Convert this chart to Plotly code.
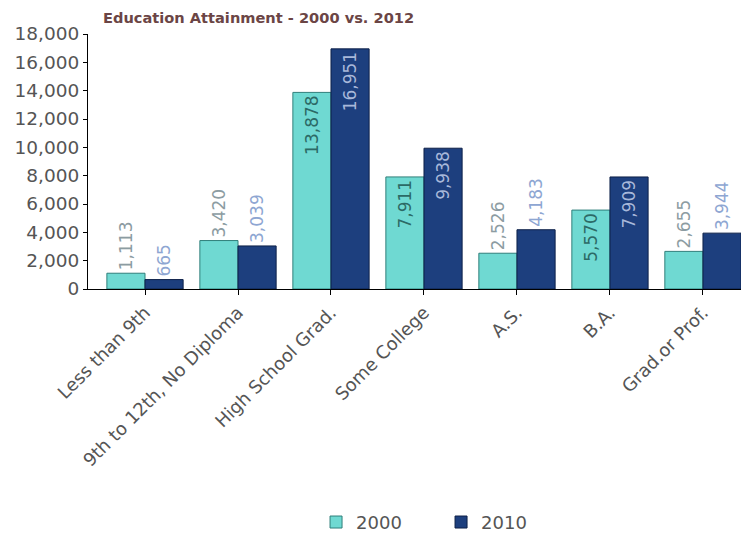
import plotly.graph_objects as go

categories = ["Less than 9th", "9th to 12th, No Diploma", "High School Grad.",
              "Some College", "A.S.", "B.A.", "Grad.or Prof."]
values_2000 = [1113, 3420, 13878, 7911, 2526, 5570, 2655]
values_2010 = [665, 3039, 16951, 9938, 4183, 7909, 3944]
series_names = ["2000", "2010"]
y_ticks = list(range(0, 18001, 2000))

FONT = "DejaVu Sans"
INSIDE_MIN = 5000  # labels drawn inside bars taller than this


def positions(vals):
    return ["inside" if v > INSIDE_MIN else "outside" for v in vals]


fig = go.Figure()
fig.add_trace(go.Bar(
    name=series_names[0], x=categories, y=values_2000,
    marker=dict(color="#6fd9d2", line=dict(color="#2f7f7a", width=1)),
    text=[f"{v:,}" for v in values_2000], textposition=positions(values_2000),
    textangle=-90, insidetextanchor="end", constraintext="none",
    insidetextfont=dict(family=FONT, size=17, color="#2c6a66"),
    outsidetextfont=dict(family=FONT, size=17, color="#8c9ca2"),
    cliponaxis=False,
))
fig.add_trace(go.Bar(
    name=series_names[1], x=categories, y=values_2010,
    marker=dict(color="#1d3f7e", line=dict(color="#0d2048", width=1)),
    text=[f"{v:,}" for v in values_2010], textposition=positions(values_2010),
    textangle=-90, insidetextanchor="end", constraintext="none",
    insidetextfont=dict(family=FONT, size=17, color="#a8b8da"),
    outsidetextfont=dict(family=FONT, size=17, color="#8ea6d2"),
    cliponaxis=False,
))

fig.update_layout(
    width=749, height=540,
    paper_bgcolor="white", plot_bgcolor="white",
    barmode="group", bargap=0.18, bargroupgap=0,
    margin=dict(l=80, r=8, t=26, b=256),
    title=dict(text="<b>Education Attainment - 2000 vs. 2012</b>",
               x=95/749, xanchor="left", y=1 - 10/540, yanchor="middle",
               font=dict(family="DejaVu Sans", size=14.6, color="#6b4545")),
    font=dict(family=FONT, size=17, color="#555555"),
    showlegend=True,
    legend=dict(orientation="h", x=0.345, xanchor="left", y=-0.915, yanchor="middle",
                entrywidth=80, entrywidthmode="pixels",
                font=dict(family=FONT, size=18, color="#555555"), traceorder="normal"),
)
fig.update_yaxes(range=[0, 18000], tickvals=y_ticks, tickformat=",",
                 showgrid=False, zeroline=False, showline=True, linecolor="black",
                 linewidth=1, ticks="outside", ticklen=4, tickcolor="black",
                 automargin=False,
                 tickfont=dict(family=FONT, size=18.5, color="#555555"))
fig.update_xaxes(range=[-0.613, 6.495], showgrid=False, showline=True,
                 linecolor="black", linewidth=1, ticks="outside", ticklen=5,
                 tickcolor="black", tickangle=-45, automargin=False,
                 tickfont=dict(family=FONT, size=18, color="#555555"))

fig.write_html("out.html")
